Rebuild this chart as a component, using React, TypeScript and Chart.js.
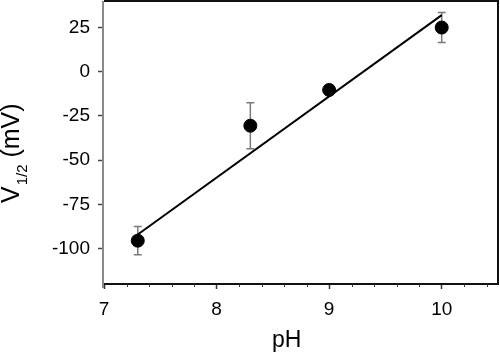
import React, { useEffect, useRef } from "react";
import { Chart, registerables } from "chart.js";

Chart.register(...registerables);

// ---- data ----
const phValues = [7.3, 8.3, 9, 10];
const v12Values = [-95.5, -30.5, -10.3, 25];
const v12Errors = [8, 13, 2, 8.5];
const fitX = [7.3, 10];
const fitY = [-92, 32];
const xMajorTicks = [7, 8, 9, 10];
const xMinorTicks = [7.2, 7.4, 7.6, 7.8, 8.2, 8.4, 8.6, 8.8, 9.2, 9.4, 9.6, 9.8, 10.2, 10.4];
const yTicks = [-100, -75, -50, -25, 0, 25];
const xTitle = "pH";
const yTitleMain = "V";
const yTitleSub = "1/2";
const yTitleUnit = " (mV)";

const FONT = "'Liberation Sans', Arial, Helvetica, sans-serif";

const decorPlugin = {
  id: "decor",
  beforeDatasetsDraw(chart: any) {
    const ctx = chart.ctx;
    const xs = chart.scales.x;
    const ys = chart.scales.y;
    ctx.save();
    ctx.strokeStyle = "#7a7a7a";
    ctx.lineWidth = 1.5;
    phValues.forEach((x, i) => {
      const px = xs.getPixelForValue(x);
      const top = ys.getPixelForValue(v12Values[i] + v12Errors[i]);
      const bot = ys.getPixelForValue(v12Values[i] - v12Errors[i]);
      ctx.beginPath();
      ctx.moveTo(px, top);
      ctx.lineTo(px, bot);
      ctx.moveTo(px - 4, top);
      ctx.lineTo(px + 4, top);
      ctx.moveTo(px - 4, bot);
      ctx.lineTo(px + 4, bot);
      ctx.stroke();
    });
    ctx.restore();
  },
  afterDraw(chart: any) {
    const ctx = chart.ctx;
    const a = chart.chartArea;
    const xs = chart.scales.x;
    ctx.save();
    // frame
    ctx.lineWidth = 2;
    ctx.strokeStyle = "#111";
    ctx.beginPath();
    ctx.moveTo(a.left, a.top);
    ctx.lineTo(a.right, a.top);
    ctx.lineTo(a.right, a.bottom);
    ctx.lineTo(a.left, a.bottom);
    ctx.stroke();
    ctx.strokeStyle = "#8a8a8a";
    ctx.beginPath();
    ctx.moveTo(a.left - 1, a.top);
    ctx.lineTo(a.left - 1, a.bottom + 4);
    ctx.stroke();
    // minor x ticks
    ctx.strokeStyle = "#333";
    ctx.lineWidth = 1;
    xMinorTicks.forEach((v) => {
      const px = Math.round(xs.getPixelForValue(v)) + 0.5;
      ctx.beginPath();
      ctx.moveTo(px, a.bottom);
      ctx.lineTo(px, a.bottom + 3);
      ctx.stroke();
    });
    // x title
    ctx.fillStyle = "#000";
    ctx.font = `23px ${FONT}`;
    ctx.textAlign = "left";
    ctx.textBaseline = "alphabetic";
    ctx.fillText(xTitle, 272, 347);
    // y title (rotated, with subscript)
    ctx.translate(19, 203);
    ctx.rotate(-Math.PI / 2);
    ctx.font = `25px ${FONT}`;
    ctx.fillText(yTitleMain, 0, 0);
    const wV = ctx.measureText(yTitleMain).width;
    ctx.font = `15px ${FONT}`;
    ctx.fillText(yTitleSub, wV + 1, 8);
    const wS = ctx.measureText(yTitleSub).width;
    ctx.font = `25px ${FONT}`;
    ctx.fillText(yTitleUnit, wV + wS + 1, 0);
    ctx.restore();
  },
};

export default function App() {
  const ref = useRef<HTMLCanvasElement | null>(null);
  useEffect(() => {
    if (!ref.current) return;
    const chart = new Chart(ref.current, {
      type: "scatter",
      data: {
        datasets: [
          {
            data: fitX.map((x, i) => ({ x, y: fitY[i] })),
            showLine: true,
            borderColor: "#000",
            borderWidth: 2,
            pointRadius: 0,
            order: 2,
          } as any,
          {
            data: phValues.map((x, i) => ({ x, y: v12Values[i] })),
            backgroundColor: "#000",
            borderColor: "#000",
            pointRadius: 6.5,
            pointHoverRadius: 6.5,
            order: 1,
          },
        ],
      },
      options: {
        responsive: false,
        animation: false,
        layout: { autoPadding: false, padding: { top: 1, right: 2, left: 0, bottom: 0 } },
        plugins: { legend: { display: false }, tooltip: { enabled: false } },
        scales: {
          x: {
            type: "linear",
            min: 7,
            max: 10.5,
            afterBuildTicks: (s: any) => {
              s.ticks = xMajorTicks.map((v) => ({ value: v }));
            },
            afterFit: (s: any) => {
              s.height = 70;
              s.paddingLeft = 0;
              s.paddingRight = 0;
            },
            border: { display: false },
            grid: { drawOnChartArea: false, tickLength: 5, tickColor: "#333", tickWidth: 1.5 },
            ticks: {
              color: "#000",
              padding: 9,
              maxRotation: 0,
              font: { family: FONT, size: 19 },
              callback: (v: any) => String(v),
            },
          },
          y: {
            type: "linear",
            min: -120,
            max: 40,
            afterBuildTicks: (s: any) => {
              s.ticks = yTicks.map((v) => ({ value: v }));
            },
            afterFit: (s: any) => {
              s.width = 104;
              s.paddingTop = 0;
              s.paddingBottom = 0;
            },
            border: { display: false },
            grid: { drawOnChartArea: false, tickLength: 6, tickColor: "#444", tickWidth: 1.5 },
            ticks: {
              color: "#000",
              padding: 8,
              font: { family: FONT, size: 19 },
              callback: (v: any) => String(v),
            },
          },
        },
      },
      plugins: [decorPlugin],
    });
    return () => chart.destroy();
  }, []);
  return (
    <div style={{ position: "fixed", left: 0, top: 0, width: 500, height: 354, background: "#fff" }}>
      <canvas ref={ref} width={500} height={354} />
    </div>
  );
}
